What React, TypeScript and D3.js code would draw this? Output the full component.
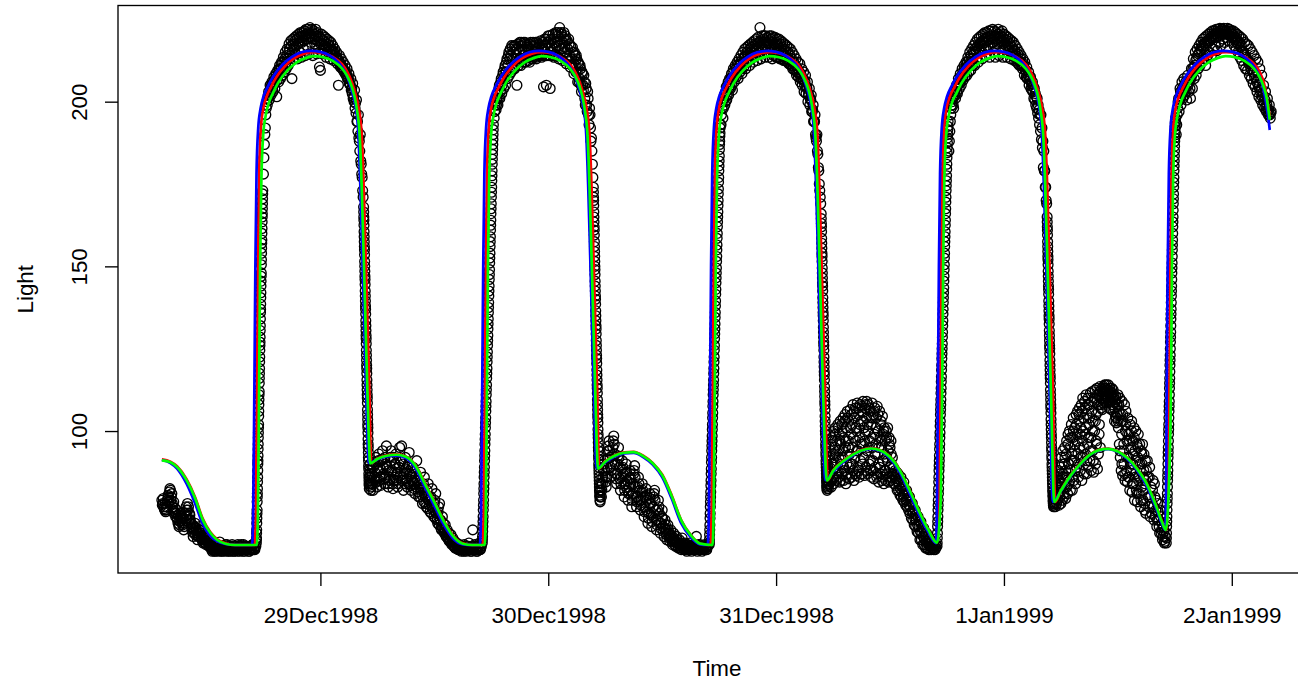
import React, { useEffect, useRef } from "react";
import * as d3 from "d3";

// Time is stored as hours since 29Dec1998 00:00 (UTC)
const BASE = Date.UTC(1998, 11, 29);
const toDate = (h: number) => new Date(BASE + h * 3600000);

// ---- observed Light readings, in runs of regular sampling (start hour, step in hours) ----
const night0 = [79, 78, 77, 76, 75.5, 77, 78.5, 80, 81.5, 82, 80, 78, 76, 75, 76.5, 75, 73.5, 72, 71, 72.5, 74, 73, 71.5, 70, 72, 74, 76, 78, 77, 75, 73, 71, 69.5, 68, 70, 72, 70.5, 69, 68, 70, 71, 69, 67.5, 66.5, 68, 67, 66, 67, 68, 66.5, 65.5,
  65, 64.5, 63.5, 64, 65.5, 64, 63.5, 65, 64.5, 64, 66.3, 64.5, 63.5, 65, 64, 64.5, 65.5, 63.5, 64, 65, 64.5, 63.5, 64, 65.5, 64.5, 63.5, 65, 64, 64.5, 65.5, 64, 63.5, 65, 64.5, 64, 65.5, 63.5, 64.5, 65, 64, 64.5, 63.5, 65, 64.5, 64, 65.5, 64.5, 64, 65];
const night0b = [77.5, 79.5, 76.5, 78, 76, 79, 80.5, 78.5, 82.5, 79, 81, 77, 78.5, 75.5, 74, 76, 73, 74.5, 71.5, 73.5,
  75, 72, 73.5, 71, 75, 77, 74.5, 76, 73, 74.5, 72, 70.5, 71.5, 69, 71, 68.5, 70, 67, 69, 68,
  70, 68, 67, 66, 68.5, 67.5, 65.5, 66.5, 67.5, 65, 66, 65, 64, 65, 64.5, 63.5, 64.5, 65.5, 64, 65,
  63.5, 64.5, 65, 64, 63.5, 65, 64.5, 64, 65.5, 64, 63.5, 65, 64.5, 64, 65, 63.5, 64.5, 65, 64, 63.5,
  65, 64.5, 64, 65.5, 64, 63.5, 65, 64.5, 64, 65, 64.5, 63.5, 65, 64, 64.5, 65.5, 64, 64.5, 65];
const rise1 = [66, 67.5, 70, 73.5, 76, 80, 82.5, 86, 90, 92.5, 96, 99.5, 102, 106, 109.5, 112, 116, 119, 122.5, 126, 128.5, 132, 136, 138.5, 142, 145.5, 148, 152, 155.5, 158, 161.5, 165, 167.5, 170.5, 173];
const rise1b = [67, 69, 72, 75, 78.5, 81, 84.5, 88, 91, 94.5, 98, 101, 104.5, 108, 111, 114.5, 117.5, 121, 124.5, 127, 130.5, 134, 137, 140.5, 144, 147, 150.5, 154, 157, 160, 163.5, 166, 169, 172];
const day1 = [178, 187, 192, 198, 199, 202, 200.5, 205, 202, 206, 203, 207.5, 204, 208.5, 201.5, 209.5, 206, 211, 207, 212,
  208, 213.5, 209, 215, 210, 216, 211, 217.5, 212, 218.5, 207, 219, 213, 219.5, 214.5, 220, 213, 220.5, 215, 221,
  213.5, 221, 216, 221.5, 214, 222, 217, 222, 214.5, 222.5, 218, 222, 214, 221.5, 217.5, 222, 214.5, 221, 216, 210.5,
  209.5, 220.5, 214.5, 220, 216, 219.5, 213.5, 219, 215, 218.5, 213, 218, 214, 217, 212.5, 216, 213, 215, 211.5, 205,
  214, 210.5, 213, 210, 212, 209, 211, 208, 210, 207, 208.5, 205.5, 207, 204, 205.5, 201.5, 203.5, 199.5, 200.5, 194,
  196, 188, 190, 181, 177, 171];
const day1b = [183, 190, 196, 200, 201, 203, 202, 204, 205, 204, 206, 205.5, 207, 208, 206.5, 208, 210, 208.5, 210, 211.5,
  210, 212, 213, 211.5, 214, 213, 215, 216, 214, 217, 215.5, 217.5, 216.5, 218.5, 217, 219, 217.5, 219.5, 218, 219.5,
  218, 220, 218.5, 220, 219, 220.5, 219, 221, 219.5, 220.5, 219.5, 221, 219, 220.5, 219, 220, 218.5, 220, 218, 219.5,
  217.5, 219, 217.5, 218.5, 217, 218, 216.5, 217.5, 216, 217, 215.5, 216, 215, 215.5, 214, 214.5, 213.5, 213.5, 212.5, 212.5,
  211.5, 211.5, 210.5, 210.5, 209.5, 209.5, 208.5, 208.5, 207, 207, 205.5, 205, 203.5, 202.5, 201, 200, 198, 196.5, 194, 191,
  189, 185, 182, 178, 173];
const fall1 = [168, 165, 162.5, 159, 156, 153.5, 150, 147, 144.5, 141, 138, 135.5, 132, 129, 126.5, 123, 120, 117.5, 114, 111,
  108.5, 105, 102, 99.5, 96, 93.5, 91, 88.5, 86, 84, 82.5, 84, 86, 88, 90, 87, 85, 83, 82, 84];
const fall1b = [166.5, 164, 160.5, 157.5, 155, 151.5, 148.5, 146, 142.5, 139.5, 137, 133.5, 130.5, 128, 124.5, 121.5, 119, 115.5, 112.5, 110,
  106.5, 103.5, 101, 97.5, 95, 92, 89.5, 87, 85, 83.5];
const night1 = [84, 89, 82, 90.5, 85, 92, 83, 88, 93, 86, 83.5, 91, 94, 87, 84, 90, 95.5, 89, 83, 86,
  92, 94, 88, 82.5, 85, 90, 93, 87, 83, 89, 95, 91, 95.5, 86, 82, 88, 92, 85, 83, 90,
  93.5, 87, 82, 85, 89, 84, 81, 87, 91, 85, 80, 83, 87.5, 82, 78, 84, 86, 80, 77, 82,
  84, 79, 75.5, 80, 82.5, 77, 74, 79, 81, 75, 72, 77, 78, 73, 70, 74, 72, 69, 71.5, 68,
  70, 67.5, 69, 66.5, 68.5, 65.5, 67.5, 65, 66.5, 64.5, 66, 65, 64, 65.5, 64.5, 63.5, 65, 64, 65.5, 64,
  63.5, 65, 64.5, 66, 64, 63.5, 65, 70, 64.5, 65.5, 64, 63.5, 65, 64.5, 66, 64, 65];
const night1b = [87, 84, 89, 86, 90, 84.5, 88, 91, 85, 88.5, 86, 91.5, 89, 85.5, 92, 86, 89.5, 84, 88, 85,
  91, 87.5, 84, 92, 86, 90, 85, 87.5, 84, 89, 86.5, 91, 85, 90, 87, 84, 88.5, 85.5, 89, 84,
  87, 83.5, 86, 88, 84.5, 82.5, 86, 83, 85, 81.5, 84, 80, 82.5, 80.5, 83, 78.5, 81, 78, 80.5, 76.5,
  79, 77.5, 79.5, 75, 77, 76, 78, 73.5, 75, 73, 75.5, 71.5, 73, 70.5, 71, 70.5, 69.5, 70, 68.5, 69,
  67.5, 67, 66.5, 67, 66, 66.5, 65.5, 65, 64.5, 65.5, 64.5, 64, 65, 64.5, 64, 65, 64.5, 63.5, 64.5, 64,
  65, 64.5, 65, 64, 64.5, 63.5, 65, 64, 64.5, 65, 64, 63.5, 64.5, 65, 64, 64.5];
const rise2 = [66, 68, 71, 74, 77.5, 81, 84, 87.5, 91, 94, 97.5, 101, 104, 107.5, 111, 114, 117.5, 121, 124, 127.5,
  131, 134, 137.5, 141, 144, 147.5, 151, 154, 157.5, 161, 164, 167.5, 171, 174, 177.5, 181, 184, 187, 190, 193];
const rise2b = [67, 69.5, 72.5, 76, 79, 82.5, 86, 89, 92.5, 96, 99, 102.5, 106, 109, 112.5, 116, 119, 122.5, 126, 129,
  132.5, 136, 139, 142.5, 146, 149, 152.5, 156, 159, 162.5, 166, 169, 172.5, 176, 179, 182.5, 185.5, 188.5, 191.5];
const day2 = [195, 199, 197.5, 201, 199, 204, 201, 206, 202.5, 208, 204, 210, 205, 212, 207, 214, 208, 216, 209, 216.5,
  210, 217, 211, 216, 205, 217.5, 212, 218, 211, 217, 213, 218, 212, 217.5, 213.5, 216.5, 212.5, 217.5, 214, 216,
  213, 218, 214, 217, 213.5, 218, 214.5, 216.5, 214, 218.5, 213.5, 217, 204.5, 219, 214, 205, 218, 220, 214, 204,
  219, 215, 220.5, 213.5, 218, 221, 214, 220, 213, 222.5, 216, 220.5, 212.5, 219.5, 215, 220, 211.5, 218.5, 213, 217.5,
  210.5, 216.5, 211, 215, 208.5, 214, 209, 213, 206, 211.5, 207, 210, 203, 208.5, 203.5, 206, 199, 204, 197, 201,
  193, 196, 188, 185, 177];
const day2b = [197, 200, 199, 202.5, 201, 205, 203, 207, 205, 209, 207, 211, 209, 213, 211, 215, 213, 214, 217, 213,
  215, 210, 217, 214, 216, 211, 215.5, 213, 218, 212, 216, 214, 218, 212, 217, 214, 216, 212, 218, 214.5,
  217, 213.5, 215.5, 218, 213, 216, 214, 217.5, 214, 216, 214, 218, 215, 217, 219, 214, 216, 218, 220, 215,
  217, 214, 219, 216, 220.5, 217, 218, 221, 217, 219, 221, 216, 218, 221, 216.5, 219, 215, 216, 219, 214,
  217, 213, 216.5, 211.5, 215, 211, 214, 209, 212, 206, 211, 205, 209, 205, 208, 201, 205.5, 199, 203, 196,
  198, 192, 189, 181];
const fall2 = [174, 171, 168.5, 165, 162, 159.5, 156, 153, 150, 147.5, 144, 141, 138.5, 135, 132, 129.5, 126, 123, 120.5, 117,
  114, 111.5, 108, 105, 102.5, 99, 96.5, 94, 91.5, 89, 87, 85, 83, 81.5, 80, 79, 78.5, 80, 82, 84];
const fall2b = [172.5, 170, 166.5, 163.5, 161, 157.5, 154.5, 151.5, 149, 145.5, 142.5, 140, 136.5, 133.5, 131, 127.5, 124.5, 122, 118.5, 115.5,
  113, 109.5, 106.5, 104, 100.5, 98, 95, 92.5, 90, 88, 86, 84, 82, 80.5];
const night2 = [80, 84, 88, 91, 86, 83, 89, 94, 97, 92, 86, 90, 95, 98.5, 93, 87, 84, 90, 95, 89,
  82, 86, 91, 87, 80, 84, 90, 85, 79, 83, 88, 84, 77, 81, 87, 89.5, 83, 77, 80, 86,
  82, 76, 79, 84, 80, 74, 77, 82.5, 79, 72, 75, 81, 78, 71, 74, 80, 82, 76, 70, 73,
  79, 75, 69, 72, 76, 71, 68, 73, 70, 67, 71.5, 69, 66.5, 70, 67.5, 65.5, 69, 66.5, 65, 68,
  66, 64.5, 67, 65.5, 64, 67.5, 65, 64, 66, 64.5, 63.5, 65.5, 64, 66, 64.5, 63.5, 65, 64, 65.5, 64,
  68, 63.5, 65, 64, 65.5, 64.5, 63.5, 65, 64, 65.5, 64.5, 64, 65];
const night2b = [82, 86, 90, 88, 84.5, 86, 91.5, 95.5, 94, 89, 88, 92.5, 97, 96, 90, 85.5, 87, 92.5, 92, 85.5,
  84, 88.5, 89, 83.5, 82, 87, 87.5, 82, 81, 85.5, 86, 80.5, 79, 84, 88, 86, 80, 78.5, 83, 84,
  79, 77.5, 81.5, 82, 77, 75.5, 80, 80.5, 75.5, 73.5, 78, 79.5, 74.5, 72.5, 77, 81, 79, 73, 71.5, 76,
  77, 72, 70.5, 74, 73.5, 69.5, 70.5, 71.5, 68.5, 69, 70, 67.5, 68, 68.5, 66.5, 67, 67.5, 65.5, 66.5, 67,
  65, 65.5, 66, 64.5, 65.5, 66, 64.5, 65, 65.5, 64, 64.5, 65, 64.5, 65, 64, 64.5, 65.5, 64.5, 64, 65,
  64.5, 64, 65.5, 64.5, 64, 65, 64.5, 64, 65, 64.5, 64, 65];
const rise3 = [65.5, 67, 70, 73.5, 77, 80, 83.5, 87, 90.5, 94, 97, 100.5, 104, 107.5, 111, 114, 117.5, 121, 124.5, 128,
  131, 134.5, 138, 141.5, 145, 148, 151.5, 155, 158.5, 162, 165, 168.5, 172, 175.5, 179, 182, 185.5, 188, 190.5, 193];
const rise3b = [66, 68.5, 71.5, 75, 78.5, 81.5, 85, 88.5, 92, 95.5, 98.5, 102, 105.5, 109, 112.5, 115.5, 119, 122.5, 126, 129.5,
  132.5, 136, 139.5, 143, 146.5, 149.5, 153, 156.5, 160, 163.5, 166.5, 170, 173.5, 177, 180.5, 183.5, 187, 189.5, 192];
const day3 = [193, 198, 195, 201, 199, 203, 200.5, 205, 202, 207, 204, 208.5, 203.5, 210, 206, 211, 207.5, 212, 207, 213,
  209, 214, 208.5, 215, 210.5, 216, 210, 216.5, 212, 217, 211, 217.5, 213, 218, 212, 218.5, 214, 219, 212.5, 219.5,
  215, 222.5, 213, 220, 216, 220, 213.5, 220, 217, 219.5, 213.5, 220, 215, 220, 213, 219.5, 216.5, 219.5, 213.5, 219,
  215, 219, 213, 218.5, 214, 218, 212.5, 217.5, 213, 217, 212, 216.5, 212.5, 216, 211, 215, 211, 214, 210, 213,
  209, 212, 208.5, 211.5, 207, 210, 207, 209, 205, 208, 204.5, 206, 202, 204, 201, 202, 197, 199, 194, 196,
  189, 190, 184, 179, 173, 169];
const day3b = [196, 200, 198, 202, 200, 204.5, 202, 206, 204, 205, 207, 205, 209, 207.5, 208, 210, 209, 211, 209.5, 211,
  212, 210, 213, 212, 213.5, 214, 212, 215, 214, 213, 216, 215, 216.5, 214, 216, 217, 215.5, 217.5, 216, 218,
  217, 218.5, 216.5, 218, 219, 217, 218.5, 215, 218, 216.5, 218.5, 217, 219, 216, 218, 214, 217.5, 216, 218, 213.5,
  217, 215.5, 217.5, 213, 216.5, 214, 216, 212.5, 215.5, 213, 215, 211.5, 214, 211.5, 213, 210, 212, 209.5, 211, 208,
  210, 207.5, 209, 206, 208, 205, 206.5, 203, 206, 202.5, 204, 200, 202, 199, 200.5, 197, 197.5, 194, 194, 190,
  188, 185, 180, 175, 171];
const fall3 = [166, 163, 160.5, 157, 154, 151.5, 148, 145, 142.5, 139, 136, 133.5, 130, 127, 124.5, 121, 118, 115.5, 112, 109,
  106.5, 103, 100, 97.5, 95, 92.5, 90, 88, 86, 84.5, 83, 82, 83.5, 85, 87, 89, 86, 84, 82.5, 84];
const fall3b = [164.5, 162, 158.5, 155.5, 153, 149.5, 146.5, 144, 140.5, 137.5, 135, 131.5, 128.5, 126, 122.5, 119.5, 117, 113.5, 110.5, 108,
  104.5, 101.5, 99, 96, 93.5, 91, 89, 87, 85, 83.5, 82.5, 84, 86, 88];
const night3a = [84, 92, 87, 96, 83, 90, 98, 86,
  93, 84, 100, 89, 95, 101, 85, 91, 97, 88, 102, 86, 94, 99, 84.5, 103, 90, 96, 87, 100,
  92, 104, 85, 98, 88, 105, 95, 84, 101, 90, 106, 87, 97, 103, 85.5, 93, 106.5, 90, 99, 86,
  102, 95, 108, 88, 85, 104, 92, 107, 97, 86.5, 100, 108.5, 89, 94, 105, 86, 98, 108, 91, 103,
  87, 106, 96, 109, 92, 101, 86.5, 107, 99, 89, 104, 109, 94, 87, 100, 108, 90, 97, 106, 88,
  102, 86, 108.5, 95, 91, 105, 85.5, 99, 107, 89, 96, 104, 86, 107.5, 93, 100, 84.5, 90, 106, 98,
  87, 103, 95, 85, 104.5, 91, 99, 84, 101, 88, 97, 85, 100, 92, 87, 101, 94, 84.5, 98, 89,
  95, 85, 97, 90, 86, 92];
const night3c = [88, 94, 85, 97, 90, 86, 99, 93, 87, 101, 92, 97, 85, 102, 94, 89, 103, 97, 86, 104,
  95, 89, 101, 105, 90, 98, 106, 87, 101, 94, 107, 88, 102, 96, 107.5, 90, 103, 97, 108, 88,
  102, 95, 107, 91, 104, 98, 88, 106, 93, 101, 87, 105, 95, 89, 102, 97, 86, 100, 93, 88,
  98, 91, 86, 96, 89, 93, 87];
const night3b = [89, 84, 88, 85.5, 82, 87, 84, 80.5, 86, 83, 79, 84.5, 81, 77.5, 82, 79.5, 76, 80, 77, 73.5,
  78, 75, 71.5, 76, 73, 69.5, 74, 71, 67, 72.5, 69, 65.5, 70.5, 67, 64.5, 69, 66, 64, 67.5, 65,
  64, 66.5, 64.5, 65.5, 64, 65.5];
const night3d = [87, 86, 83.5, 87.5, 84.5, 82, 85.5, 82.5, 80, 83.5, 80.5, 78.5, 82, 79, 77, 80.5, 77.5, 75, 78.5, 75.5,
  73, 76.5, 73.5, 71, 74.5, 71.5, 69, 72.5, 69.5, 67, 70.5, 68, 65.5, 68.5, 66.5, 64.5, 67, 65.5, 64, 66,
  64.5, 65.5, 64, 65, 64.5];
const rise4 = [65, 67.5, 71, 74, 77.5, 81, 84.5, 88, 91, 94.5, 98, 101.5, 105, 108, 111.5, 115, 118.5, 122, 125, 128.5,
  132, 135.5, 139, 142, 145.5, 149, 152.5, 156, 159, 162.5, 166, 169.5, 173, 176, 179.5, 183, 186, 189, 191.5, 194];
const rise4b = [66, 69, 72.5, 76, 79, 82.5, 86, 89.5, 92.5, 96, 99.5, 103, 106.5, 109.5, 113, 116.5, 120, 123.5, 126.5, 130,
  133.5, 137, 140.5, 143.5, 147, 150.5, 154, 157.5, 160.5, 164, 167.5, 171, 174.5, 177.5, 181, 184.5, 187.5, 190, 192.5];
const day4 = [185, 191, 196, 199, 201, 198, 203, 201, 205, 202.5, 207, 204, 208.5, 205, 210, 206.5, 211, 207.5, 212, 208,
  213.5, 209, 215, 209.5, 216, 211, 217, 211, 218, 213, 219, 212, 219.5, 215, 220, 213, 220.5, 216, 221, 214,
  221, 217, 221.5, 213.5, 221.5, 218, 222, 215, 221.5, 213.5, 221, 217.5, 222, 214, 221, 218, 221.5, 213.5, 220.5, 216,
  220, 213.5, 219.5, 215.5, 219, 213, 218.5, 214, 218, 212.5, 217, 213, 216, 211.5, 215, 212, 214, 211, 213, 210.5,
  212, 209.5, 210.5, 208, 209, 207.5, 207.5, 205.5, 206, 204.5, 204, 202.5, 201.5, 201, 199, 197.5, 196, 196, 192, 188,
  185, 179, 174, 169];
const day4b = [188, 194, 198, 200, 199, 201.5, 202, 204, 203, 205, 206, 205.5, 207, 208, 207.5, 209, 210, 209.5, 210.5, 212,
  211, 213, 212, 214, 213, 215, 214.5, 216, 215.5, 216.5, 217, 216, 217.5, 218, 217, 218.5, 218, 219, 218, 219.5,
  218.5, 219.5, 217, 220, 219, 220, 218, 219.5, 217, 220, 219, 220.5, 218, 219.5, 220, 218.5, 219.5, 217.5, 219, 218,
  217, 218.5, 217, 216.5, 217.5, 215, 216.5, 215.5, 214, 215.5, 214, 212, 214.5, 212.5, 211, 213, 211, 210, 211.5, 208,
  209.5, 207.5, 207, 208, 205, 206.5, 204, 203.5, 203, 201, 200.5, 199, 198, 196.5, 195, 193, 191, 188.5, 186, 180,
  179, 174, 170];
const fall4 = [165, 162, 159.5, 156, 153, 150.5, 147, 144, 141.5, 138, 135, 132.5, 129, 126, 123.5, 120, 117, 114.5, 111, 108,
  105.5, 102, 99, 96.5, 94, 91.5, 89, 87, 85, 83, 81.5, 80, 78.5, 77.5, 77, 78, 79.5, 81, 78, 80];
const fall4b = [163.5, 161, 157.5, 154.5, 152, 148.5, 145.5, 143, 139.5, 136.5, 134, 130.5, 127.5, 125, 121.5, 118.5, 116, 112.5, 109.5, 107,
  103.5, 100.5, 98, 95, 92.5, 90, 88, 86, 84, 82, 80.5, 79, 78, 77.5];
const night4a = [77, 81, 84, 78, 86, 79.5, 83, 88, 77.5, 85, 80,
  89, 78, 92, 84, 79, 94, 87, 81, 90, 95, 83,
  79.5, 93, 97, 86, 81, 99, 90, 84, 100, 95, 82,
  88, 102, 93, 82, 98, 104, 85, 91, 101, 96,
  84, 105, 89, 99, 106, 93, 86, 103, 107, 95,
  88, 101, 108, 85, 97, 110, 92, 104, 87, 109,
  99, 93, 111, 87, 105, 96, 110, 89, 102, 108,
  91, 111.5, 98, 88, 106, 112, 94, 103, 87.5, 109,
  100, 112.5, 90, 105, 96, 113, 88.5, 108, 93, 111,
  102, 113.5, 95, 110, 107, 113, 106.5, 112, 108.5, 113.5,
  109, 114, 110.5, 113, 108.5, 114, 111, 112.5, 109.5, 114,
  111.5, 107, 113, 109, 112, 106.5, 113, 110, 108, 112.5,
  106, 111, 103, 109, 104.5, 110.5, 102.5, 108, 105, 111,
  101, 108, 96, 110, 92, 105, 88, 99, 109, 86.5,
  103, 94, 90, 108, 85, 100, 106, 88, 97, 84.5,
  104, 92, 86, 99, 82, 102, 95, 88, 103, 81.5,
  90, 97, 84, 101, 79, 94, 87, 100, 82, 96,
  78.5, 92, 99, 85, 81, 96, 88, 77, 94, 83,
  90, 96, 79, 86, 93, 76, 84, 91, 75, 88];
const night4c = [80, 83, 79, 85, 81, 87, 83, 90, 86, 80, 92, 88, 83, 96, 90, 85, 98, 91, 86, 100,
  94, 88, 102, 97, 90, 105, 99, 92, 106, 100, 95, 107, 101, 91, 108, 98, 104, 94, 109, 100,
  91, 110, 103, 97, 111, 106, 99, 112, 108, 110, 112.5, 110, 112, 113, 110.5, 112.5, 110, 112, 109, 111,
  108, 110.5, 107, 109.5, 104, 108, 103, 106, 94, 103, 90, 105, 96, 87, 102, 92, 99, 86, 97, 90,
  100, 84, 93, 98, 86, 91, 81, 95, 86, 90, 79, 93, 82, 88, 78, 85];
const night4b = [91, 80, 86, 74, 83, 78, 85, 73, 80, 76, 71, 78, 73, 69, 74, 70, 67, 71, 66, 68];
const night4d = [86, 77, 89, 80, 75, 82, 77, 84, 74, 79, 73, 75.5, 71, 76, 69, 72, 68, 69.5, 66.5];
const rise5 = [66, 69, 72.5, 76, 79.5, 83, 86.5, 90, 93.5, 97, 100.5, 104, 107.5, 111, 114.5, 118, 121.5, 125, 128.5, 132,
  135.5, 139, 142.5, 146, 149.5, 153, 156.5, 160, 163.5, 167, 170.5, 174, 177, 180.5, 183.5, 186.5, 189, 191.5, 193.5, 195];
const rise5b = [67.5, 71, 74, 78, 81, 85, 88, 92, 95, 99, 102, 106, 109, 113, 116, 120, 123, 127, 130, 134,
  137, 141, 144, 148, 151, 155, 158, 162, 165, 169, 172, 175.5, 179, 182, 185, 188, 190.5, 192.5, 194];
const day5 = [190, 196, 200, 197, 204, 199, 206, 201, 207, 202, 206, 200.5, 208, 203, 207, 201, 210, 204, 213, 207,
  215, 208, 216, 210, 217, 211, 218, 212, 219, 213, 219.5, 211, 220, 214, 220.5, 215, 221, 214, 221.5, 216,
  221.5, 217, 222, 215.5, 222, 218, 222.3, 217, 222, 219, 222.3, 218, 221.5, 219.5, 222.3, 218.5, 222, 220, 221.5, 218,
  221.5, 217, 221, 216, 220.5, 215, 220, 213.5, 219.5, 212.5, 219, 211, 218, 210, 217.5, 209.5, 217, 208, 216, 207,
  215, 205.5, 214, 204.5, 213, 203, 212, 201.5, 210, 200.5, 208, 199, 205, 198, 203, 197, 201, 196, 199, 195, 197];
const day5b = [193, 198, 201, 200.5, 203, 202.5, 204, 203.5, 205, 204, 203, 205.5, 205, 206, 204, 207, 208, 210, 210.5, 211,
  212.5, 213, 214, 214.5, 215, 216, 215.5, 217, 216.5, 217.5, 218, 217, 218.5, 218, 219, 218.5, 219.5, 219, 220, 219.5,
  220.5, 219.5, 221, 220, 221, 220.5, 221.5, 220.5, 221.5, 220.5, 221.5, 220.5, 221.5, 221, 220.5, 221.5, 220, 221, 220.5, 219.5,
  220, 219, 219.5, 218, 218.5, 217.5, 218, 216.5, 217, 215.5, 215, 214.5, 214, 213.5, 213, 212.5, 211.5, 212, 210, 211,
  209, 209.5, 207.5, 208, 206, 206.5, 204.5, 205, 203, 203.5, 201.5, 202, 200, 200.5, 198.5, 199, 197, 197.5, 196, 196.5];

const segments = [night0, night0b, rise1, rise1b, day1, day1b, fall1, fall1b, night1, night1b,
  rise2, rise2b, day2, day2b, fall2, fall2b, night2, night2b,
  rise3, rise3b, day3, day3b, fall3, fall3b, night3a, night3c, night3b, night3d,
  rise4, rise4b, day4, day4b, fall4, fall4b, night4a, night4c, night4b, night4d,
  rise5, rise5b, day5, day5b];
const segStarts = [-16.7, -16.65, -6.75, -6.74, -6.0, -5.95, 4.55, 4.56, 5.35, 5.4,
  17.05, 17.065, 18.3, 18.35, 28.75, 28.76, 29.6, 29.65,
  40.95, 40.965, 42.2, 42.25, 52.75, 52.76, 53.6, 53.625, 60.35, 60.4,
  64.95, 64.965, 66.2, 66.25, 76.55, 76.56, 77.4, 77.425, 87.1, 87.15,
  89.1, 89.1125, 90.15, 90.2];
const segSteps = [0.1, 0.1, 0.02, 0.02, 0.1, 0.1, 0.02, 0.02, 0.1, 0.1,
  0.03, 0.03, 0.1, 0.1, 0.02, 0.02, 0.1, 0.1,
  0.03, 0.03, 0.1, 0.1, 0.02, 0.02, 0.05, 0.1, 0.1, 0.1,
  0.03, 0.03, 0.1, 0.1, 0.02, 0.02, 0.05, 0.1, 0.1, 0.1,
  0.025, 0.025, 0.1, 0.1];

// ---- fitted curves [hour, Light] ----
const blueFit: [number, number][] = [
  [-16.7, 91.2], [-15.8, 90.3], [-15.1, 88.6], [-14.1, 84], [-13.2, 78], [-12.4, 71.8], [-11.6, 68.2], [-10.9, 66.6], [-10, 65.7], [-9, 65.4], [-7.2, 65.4],
  [-7.08, 75], [-6.95, 115], [-6.85, 150], [-6.73, 178], [-6.55, 192], [-6.3, 198], [-6, 201.5],
  [-5.5, 204.8], [-5, 207.5], [-4, 211.2], [-3, 213.6], [-2, 215], [-1, 215.4], [0, 215.1], [1, 214], [2, 211.6], [2.5, 209.5], [3, 206.3], [3.4, 202.5], [3.7, 198.5], [4, 190], [4.2, 175], [4.4, 155], [4.6, 134], [4.8, 113], [5.1, 90.3],
  [6, 91.4], [7, 92.3], [8, 92.5], [9, 91.8], [10, 88.8], [11, 83], [12, 77.3], [13, 71.5], [14, 67.3], [15, 65.6], [16, 65.4], [16.8, 65.4],
  [16.92, 75], [17.05, 115], [17.15, 150], [17.27, 178], [17.45, 192], [17.7, 198], [18, 201.5],
  [18.5, 204.8], [19, 207.5], [20, 211.2], [21, 213.6], [22, 215], [23, 215.4], [24, 215.1], [25, 214], [26, 211.6], [26.5, 209.5], [27, 206.3], [27.4, 202.5], [27.7, 198.5], [28, 190], [28.2, 175], [28.4, 155], [28.6, 134], [28.8, 113], [29.1, 88.7],
  [30, 90.5], [31, 92.3], [32, 93.2], [33, 93.4], [34, 92.1], [35, 89.8], [36, 86], [37, 79.5], [38, 72], [39, 67.8], [40, 65.6], [40.8, 65.4],
  [40.92, 75], [41.05, 115], [41.15, 150], [41.27, 178], [41.45, 192], [41.7, 198], [42, 201.5],
  [42.5, 204.8], [43, 207.5], [44, 211.2], [45, 213.6], [46, 215], [47, 215.4], [48, 215.1], [49, 214], [50, 211.6], [50.5, 209.5], [51, 206.3], [51.4, 202.5], [51.7, 198.5], [52, 190], [52.2, 175], [52.4, 155], [52.6, 134], [52.8, 113], [53.2, 85.1],
  [54, 87.6], [55, 90.4], [56, 92.5], [57, 94], [58, 94.6], [59, 93.9], [60, 91.7], [61, 87.6], [62, 81.5], [63, 75], [64, 69.5], [64.85, 66],
  [64.95, 80], [65.05, 115], [65.15, 150], [65.27, 178], [65.45, 192], [65.7, 198], [66, 201.5],
  [66.5, 204.8], [67, 207.5], [68, 211.2], [69, 213.6], [70, 215], [71, 215.4], [72, 215.1], [73, 214], [74, 211.6], [74.5, 209.5], [75, 206.3], [75.4, 202.5], [75.7, 198.5], [76, 190], [76.2, 175], [76.4, 155], [76.6, 134], [76.8, 113], [77.15, 78.5],
  [78, 81.8], [79, 86.2], [80, 89.8], [81, 92.6], [82, 94.1], [83, 94.5], [84, 93.6], [85, 91.5], [86, 88.2], [87, 83.6], [88, 76.8], [88.7, 71.5], [89, 70],
  [89.1, 90], [89.15, 115], [89.25, 150], [89.37, 178], [89.55, 192], [89.8, 198], [90.1, 201.5],
  [90.6, 204.8], [91.1, 207.5], [92.1, 211.2], [93.1, 213.6], [94.1, 215], [95.1, 215.4], [96.1, 215.1], [97.1, 214], [98.1, 211.6], [98.6, 209.5], [99.1, 206.3], [99.5, 201.5], [99.8, 196], [100, 191.4]];

const redFit: [number, number][] = [
  [-16.7, 91.4], [-15.8, 90.7], [-15.1, 89.3], [-14.1, 85.4], [-13.2, 79.9], [-12.4, 73.4], [-11.6, 69.3], [-10.9, 67.2], [-10, 65.9], [-9, 65.4], [-6.92, 65.4],
  [-6.8, 75], [-6.67, 115], [-6.57, 150], [-6.45, 178], [-6.27, 192], [-6.02, 198], [-5.72, 201.2],
  [-5.2, 204.5], [-4.7, 207.2], [-3.7, 210.9], [-2.7, 213.3], [-1.7, 214.6], [-0.7, 215], [0.3, 214.7], [1.3, 213.6], [2.3, 211.3], [2.8, 209.2], [3.3, 206], [3.7, 202.3], [4, 198.5], [4.35, 190], [4.55, 175], [4.75, 155], [4.95, 134], [5.15, 113], [5.35, 90.3],
  [6, 91.6], [7, 92.6], [8, 92.9], [9, 92.3], [10, 89.7], [11, 84.3], [12, 78.6], [13, 72.8], [14, 68.2], [15, 65.9], [16, 65.4], [17.08, 65.4],
  [17.2, 75], [17.33, 115], [17.43, 150], [17.55, 178], [17.73, 192], [17.98, 198], [18.28, 201.2],
  [18.8, 204.5], [19.3, 207.2], [20.3, 210.9], [21.3, 213.3], [22.3, 214.6], [23.3, 215], [24.3, 214.7], [25.3, 213.6], [26.3, 211.3], [26.8, 209.2], [27.3, 206], [27.7, 202.3], [28, 198.5], [28.35, 190], [28.55, 175], [28.75, 155], [28.95, 134], [29.15, 113], [29.35, 88.7],
  [30, 90.8], [31, 92.6], [32, 93.5], [33, 93.7], [34, 92.5], [35, 90.3], [36, 86.8], [37, 80.5], [38, 73], [39, 68.5], [40, 65.8], [41.08, 65.4],
  [41.2, 75], [41.33, 115], [41.43, 150], [41.55, 178], [41.73, 192], [41.98, 198], [42.28, 201.2],
  [42.8, 204.5], [43.3, 207.2], [44.3, 210.9], [45.3, 213.3], [46.3, 214.6], [47.3, 215], [48.3, 214.7], [49.3, 213.6], [50.3, 211.3], [50.8, 209.2], [51.3, 206], [51.7, 202.3], [52, 198.5], [52.35, 190], [52.55, 175], [52.75, 155], [52.95, 134], [53.15, 113], [53.45, 85.1],
  [54, 88], [55, 90.8], [56, 92.8], [57, 94.2], [58, 94.8], [59, 94.2], [60, 92.2], [61, 88.3], [62, 82.5], [63, 76], [64, 70.2], [64.95, 66.2],
  [65.15, 80], [65.3, 115], [65.4, 150], [65.52, 178], [65.7, 192], [65.95, 198], [66.25, 201.2],
  [66.8, 204.5], [67.3, 207.2], [68.3, 210.9], [69.3, 213.3], [70.3, 214.6], [71.3, 215], [72.3, 214.7], [73.3, 213.6], [74.3, 211.3], [74.8, 209.2], [75.3, 206], [75.7, 202.3], [76, 198.5], [76.35, 190], [76.55, 175], [76.75, 155], [76.95, 134], [77.15, 113], [77.4, 78.5],
  [78, 82], [79, 86.5], [80, 90], [81, 92.8], [82, 94.3], [83, 94.7], [84, 93.9], [85, 91.9], [86, 88.7], [87, 84.3], [88, 77.6], [88.7, 72.2], [89.1, 70],
  [89.3, 90], [89.43, 115], [89.53, 150], [89.65, 178], [89.83, 192], [90.08, 198], [90.38, 201.2],
  [90.9, 204.5], [91.4, 207.2], [92.4, 210.9], [93.4, 213.3], [94.4, 214.6], [95.4, 215], [96.4, 214.7], [97.4, 213.6], [98.4, 211.3], [98.9, 209.2], [99.4, 205.5], [100, 195.5]];

const greenFit: [number, number][] = [
  [-16.7, 91.1], [-15.8, 90.5], [-15.1, 89.1], [-14.1, 85.1], [-13.2, 79.6], [-12.4, 73.1], [-11.6, 69.1], [-10.9, 67], [-10, 65.8], [-9, 65.4], [-6.7, 65.4],
  [-6.58, 75], [-6.45, 115], [-6.35, 150], [-6.22, 176], [-6.02, 190], [-5.75, 196], [-5.45, 199.5],
  [-5, 202.6], [-4.5, 205.5], [-3.5, 209.4], [-2.5, 211.9], [-1.5, 213.3], [-0.7, 213.8], [0.3, 213.5], [1.3, 212.4], [2.3, 210], [2.8, 207.9], [3.3, 204.6], [3.6, 201.5], [3.85, 197.5], [4.15, 189], [4.35, 174], [4.55, 154], [4.75, 133], [4.95, 112], [5.25, 90.2],
  [6, 91.5], [7, 92.5], [8, 92.8], [9, 92.2], [10, 89.5], [11, 84], [12, 78.4], [13, 72.6], [14, 68], [15, 65.8], [16, 65.4], [17.3, 65.4],
  [17.42, 75], [17.55, 115], [17.65, 150], [17.78, 176], [17.98, 190], [18.25, 196], [18.55, 199.5],
  [19, 202.6], [19.5, 205.5], [20.5, 209.4], [21.5, 211.9], [22.5, 213.3], [23.3, 213.8], [24.3, 213.5], [25.3, 212.4], [26.3, 210], [26.8, 207.9], [27.3, 204.6], [27.6, 201.5], [27.85, 197.5], [28.15, 189], [28.35, 174], [28.55, 154], [28.75, 133], [28.95, 112], [29.25, 88.6],
  [30, 90.7], [31, 92.5], [32, 93.4], [33, 93.6], [34, 92.4], [35, 90.2], [36, 86.6], [37, 80.3], [38, 72.9], [39, 68.4], [40, 65.8], [41.3, 65.4],
  [41.42, 75], [41.55, 115], [41.65, 150], [41.78, 176], [41.98, 190], [42.25, 196], [42.55, 199.5],
  [43, 202.6], [43.5, 205.5], [44.5, 209.4], [45.5, 211.9], [46.5, 213.3], [47.3, 213.8], [48.3, 213.5], [49.3, 212.4], [50.3, 210], [50.8, 207.9], [51.3, 204.6], [51.6, 201.5], [51.85, 197.5], [52.15, 189], [52.35, 174], [52.55, 154], [52.75, 133], [52.95, 112], [53.35, 85],
  [54, 87.9], [55, 90.7], [56, 92.7], [57, 94.1], [58, 94.7], [59, 94.1], [60, 92.1], [61, 88.2], [62, 82.4], [63, 76], [64, 70.2], [64.95, 66.1],
  [65.35, 80], [65.5, 115], [65.6, 150], [65.72, 176], [65.92, 190], [66.2, 196], [66.5, 199.5],
  [67, 202.6], [67.5, 205.5], [68.5, 209.4], [69.5, 211.9], [70.5, 213.3], [71.3, 213.8], [72.3, 213.5], [73.3, 212.4], [74.3, 210], [74.8, 207.9], [75.3, 204.6], [75.6, 201.5], [75.85, 197.5], [76.15, 189], [76.35, 174], [76.55, 154], [76.75, 133], [76.95, 112], [77.3, 78.5],
  [78, 81.9], [79, 86.4], [80, 89.9], [81, 92.7], [82, 94.2], [83, 94.6], [84, 93.8], [85, 91.8], [86, 88.6], [87, 84.2], [88, 77.5], [88.7, 72], [89.05, 70],
  [89.45, 90], [89.6, 115], [89.7, 150], [89.82, 176], [90.02, 190], [90.3, 196], [90.6, 199.5],
  [91.05, 202.6], [91.55, 205.5], [92.55, 209.4], [93.55, 211.9], [94.55, 213.3], [95.35, 213.8], [96.35, 213.5], [97.35, 212.4], [98.35, 210], [98.85, 207.9], [99.35, 204.6], [99.65, 201.5], [100, 194.5]];

// ---- axes ----
const xTickHours = [0, 24, 48, 72, 96];
const xTickLabels = ["29Dec1998", "30Dec1998", "31Dec1998", "1Jan1999", "2Jan1999"];
const yTicks = [100, 150, 200];
const xDomainHours = [-21.32, 104.87];
const yDomain = [56.9, 229.2];

export default function App() {
  const ref = useRef<SVGSVGElement | null>(null);

  useEffect(() => {
    const svg = d3.select(ref.current);
    svg.selectAll("*").remove();
    const left = 118, right = 1316, top = 5.5, bottom = 573;
    const font = "'Liberation Sans', Arial, Helvetica, sans-serif";
    const fs = 22.4;
    const lw = 1.35;

    const x = d3.scaleUtc().domain(xDomainHours.map(toDate)).range([left, right]);
    const y = d3.scaleLinear().domain(yDomain).range([bottom, top]);

    const pts: [number, number][] = [];
    segments.forEach((vals, i) => {
      vals.forEach((v, j) => pts.push([segStarts[i] + j * segSteps[i], v]));
    });

    svg.append("rect").attr("width", 1298).attr("height", 681).attr("fill", "#fff");

    const plot = svg.append("g");
    plot.selectAll("circle").data(pts).join("circle")
      .attr("cx", (d) => x(toDate(d[0])))
      .attr("cy", (d) => y(d[1]))
      .attr("r", 4.9)
      .attr("fill", "none")
      .attr("stroke", "#000")
      .attr("stroke-width", lw);

    const line = d3.line<[number, number]>()
      .x((d) => x(toDate(d[0])))
      .y((d) => y(d[1]))
      .curve(d3.curveMonotoneX);

    const fits: [[number, number][], string][] = [[redFit, "#FF0000"], [blueFit, "#0000FF"], [greenFit, "#00FF00"]];
    fits.forEach(([data, color]) => {
      plot.append("path").attr("d", line(data) as string)
        .attr("fill", "none").attr("stroke", color).attr("stroke-width", 2.7)
        .attr("stroke-linejoin", "round").attr("stroke-linecap", "butt");
    });

    // box
    svg.append("rect").attr("x", left).attr("y", top)
      .attr("width", right - left).attr("height", bottom - top)
      .attr("fill", "none").attr("stroke", "#000").attr("stroke-width", lw);

    // x axis
    const xAxis = d3.axisBottom(x)
      .tickValues(xTickHours.map(toDate))
      .tickFormat((_d, i) => xTickLabels[i])
      .tickSize(13);
    const gx = svg.append("g").attr("transform", `translate(0,${bottom})`).call(xAxis);
    gx.select(".domain").remove();
    gx.selectAll(".tick line").attr("stroke", "#000").attr("stroke-width", lw);
    gx.selectAll(".tick text").attr("y", 50).attr("dy", 0)
      .attr("font-family", font).attr("font-size", fs).attr("fill", "#000");

    // y axis
    const yAxis = d3.axisLeft(y).tickValues(yTicks).tickFormat(d3.format("d")).tickSize(13);
    const gy = svg.append("g").attr("transform", `translate(${left},0)`).call(yAxis);
    gy.select(".domain").remove();
    gy.selectAll(".tick line").attr("stroke", "#000").attr("stroke-width", lw);
    gy.selectAll(".tick text")
      .attr("transform", "rotate(-90)")
      .attr("x", 0).attr("y", -31.3).attr("dy", 0)
      .attr("text-anchor", "middle")
      .attr("font-family", font).attr("font-size", fs).attr("fill", "#000");

    // axis titles
    svg.append("text").attr("x", (left + right) / 2).attr("y", 676)
      .attr("text-anchor", "middle").attr("font-family", font).attr("font-size", fs)
      .text("Time");
    svg.append("text")
      .attr("transform", `translate(33,${(top + bottom) / 2}) rotate(-90)`)
      .attr("text-anchor", "middle").attr("font-family", font).attr("font-size", fs)
      .text("Light");
  }, []);

  return (
    <svg
      ref={ref}
      width={1298}
      height={681}
      style={{ position: "absolute", left: 0, top: 0, display: "block" }}
    />
  );
}
